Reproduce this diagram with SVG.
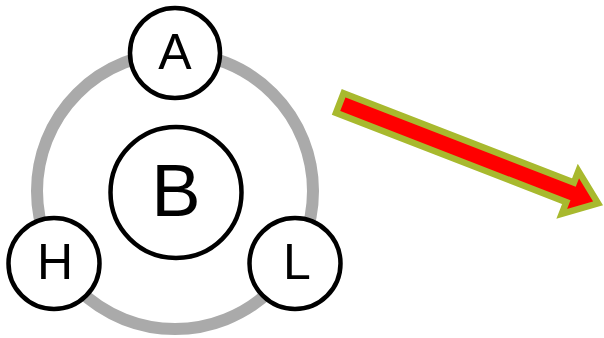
<svg xmlns="http://www.w3.org/2000/svg" width="604" height="338" viewBox="0 0 604 338">
<style>
.node circle{fill:#fff;stroke:#000;stroke-width:4.5}
.node text{font-family:"Liberation Sans",Arial,sans-serif;fill:#000;text-anchor:middle}
</style>
<rect width="604" height="338" fill="#fff"/>
<g id="connectors">
<circle id="ring" cx="175" cy="191" r="138" fill="none" stroke="#aaaaaa" stroke-width="12"/>
<g id="arrow" transform="translate(337,102) rotate(21.2)">
<path d="M3,-10.5 L250,-10.5 L250,-23 L280,0 L250,23 L250,10.5 L3,10.5 Z" fill="#ff0000" stroke="#a8b92e" stroke-width="6.5" stroke-linejoin="miter"/>
</g>
</g>
<g id="node-B" class="node"><circle cx="176" cy="192.5" r="65.5"/><text x="176" y="216" font-size="74">B</text></g>
<g id="node-A" class="node"><circle cx="175" cy="53" r="45"/><text x="175" y="69" font-size="50">A</text></g>
<g id="node-H" class="node"><circle cx="54" cy="263.5" r="45.5"/><text x="55" y="279" font-size="50">H</text></g>
<g id="node-L" class="node"><circle cx="295" cy="263.5" r="45.5"/><text x="297" y="279" font-size="50">L</text></g>
</svg>
